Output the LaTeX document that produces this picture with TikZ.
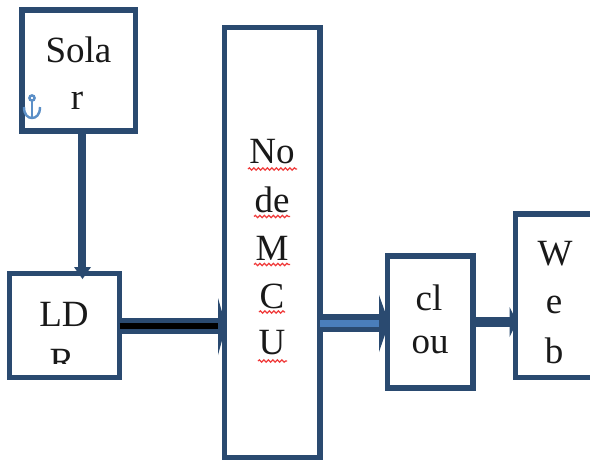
\documentclass[tikz,border=0pt]{standalone}
\usepackage{fontspec}
\setmainfont{Liberation Serif}
\usetikzlibrary{decorations.pathmorphing}
\definecolor{navy}{HTML}{2A4A70}
\definecolor{midblue}{HTML}{4A7EBB}
\definecolor{anchorblue}{HTML}{5B8FC7}
\definecolor{squig}{HTML}{F03A3A}
\tikzset{
  blockbox/.style={draw=navy,line width=5.5pt,fill=white,outer sep=0pt,inner sep=0pt,anchor=north west},
  lbl/.style={inner sep=0pt,font=\fontsize{37}{37}\selectfont,text=black!90},
  head/.style={fill=navy,draw=none},
  squiggle/.style={draw=squig,line width=1.2pt,decorate,decoration={snake,amplitude=1.2pt,segment length=4.5pt}}
}
\begin{document}
\begin{tikzpicture}[x=1pt,y=-1pt]
\useasboundingbox (0,0) rectangle (590,461);
\fill[white] (0,0) rectangle (590,461);
% boxes
\node[blockbox,minimum width=113.5pt,minimum height=121pt] (solar) at (22,10) {};
\node[blockbox,minimum width=110pt,minimum height=104pt] (ldr) at (9.5,273.5) {};
\node[blockbox,minimum width=95.5pt,minimum height=430pt] (mcu) at (224.5,27.5) {};
\node[blockbox,minimum width=85.5pt,minimum height=132pt] (cloud) at (387.5,256) {};
\node[blockbox,minimum width=90pt,minimum height=163.5pt] (web) at (515.5,214) {};
% connectors
\draw[draw=navy,line width=8pt] ([xshift=3.25pt]solar.south) -- ([xshift=17.5pt]ldr.north);
\fill[head] (74,267) -- (91,267) -- (82.5,279) -- cycle;
\draw[draw=navy,line width=16pt] (ldr.east) -- (ldr.east -| mcu.west);
\draw[draw=black,line width=6pt] (ldr.east) -- (ldr.east -| mcu.west);
\fill[head] (218,298) -- (226,326) -- (218,355) -- cycle;
\coordinate (mcuOut) at (mcu.east |- 0,323);
\draw[draw=navy,line width=18pt] (mcuOut) -- (mcuOut -| cloud.west);
\draw[draw=midblue,line width=7pt] (mcuOut) -- (mcuOut -| 385,0);
\fill[head] (379,295) -- (389,323) -- (379,352) -- cycle;
\coordinate (cloudOut) at (cloud.east);
\draw[draw=navy,line width=10pt] (cloudOut) -- (cloudOut -| web.west);
\fill[head] (509.5,307) -- (517,322) -- (509.5,337) -- cycle;
% texts
\node[lbl] (t1) at (78.5,50) {Sola};
\node[lbl] (t2) at (77,101) {r};
\node[lbl] (t3) at (64,314) {LD};
\begin{scope}
\clip (20,340) rectangle (110,363);
\node[lbl] (t4) at (62,361) {R};
\end{scope}
\node[lbl] (n1) at (272,152) {No};
\node[lbl] (n2) at (272,200) {de};
\node[lbl] (n3) at (272,248) {M};
\node[lbl] (n4) at (272,296) {C};
\node[lbl] (n5) at (272,343) {U};
\node[lbl] (c1) at (429,298) {cl};
\node[lbl] (c2) at (430,345) {ou};
\node[lbl] (w1) at (555,254) {W};
\node[lbl] (w2) at (554,305) {e};
\node[lbl] (w3) at (554,351) {b};
% anchor mark
\draw[anchorblue,line width=2.4pt] (32,98) circle (2.6pt);
\draw[anchorblue,line width=2.4pt] (32,101) -- (32,117);
\draw[anchorblue,line width=2.4pt] (24,107) .. controls (24,115) and (28,118) .. (32,118) .. controls (36,118) and (40,115) .. (40,107);
% spell-check underlines
\draw[squiggle] (248,169) -- (297,169);
\draw[squiggle] (254,216.5) -- (290,216.5);
\draw[squiggle] (254,264.5) -- (290,264.5);
\draw[squiggle] (259,312) -- (285,312);
\draw[squiggle] (258,361) -- (287,361);
\end{tikzpicture}
\end{document}
